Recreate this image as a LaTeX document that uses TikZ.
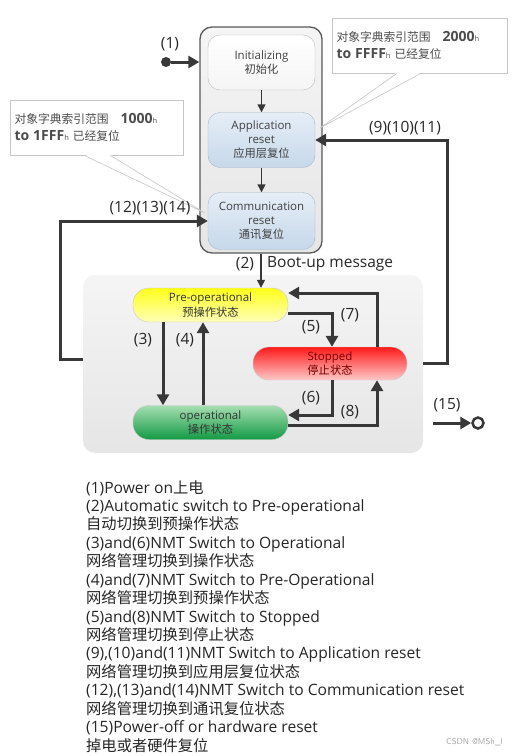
\documentclass[tikz,border=0pt]{standalone}
\usepackage{fontspec}
\setmainfont{Open Sans}
\newfontfamily\cjk{Noto Sans CJK SC}[Scale=0.98]
\usetikzlibrary{positioning,arrows.meta}
\newcommand\zh[1]{{\cjk #1}}
\newcommand\hh{{\fontsize{7.5}{8}\selectfont\mdseries h}}
\newcommand\lt[1]{{\fontsize{14}{16}\selectfont\bfseries #1}}
\definecolor{lnc}{HTML}{383838}
\definecolor{rsa}{HTML}{E6EEF7}
\definecolor{rsb}{HTML}{C6D8EA}
\definecolor{rsd}{HTML}{A4B6C8}
\definecolor{gra}{HTML}{A5DEB0}
\definecolor{grb}{HTML}{129A44}
\definecolor{yla}{HTML}{FFFF1A}
\definecolor{ylb}{HTML}{FFFFB8}
\definecolor{rda}{HTML}{FF1A1A}
\definecolor{rdb}{HTML}{FFC8C8}

\begin{document}
\begin{tikzpicture}[x=1pt,y=-1pt,
    blk/.style={
        rounded corners=12pt,
        top color=gray!8,
        bottom color=gray!20,
    },
    rs/.style={
        draw=rsd,
        align=center,
        text=black!75,
        font=\fontsize{11.5}{14}\selectfont,
        minimum width=107pt,
        minimum height=55pt,
        rounded corners=12pt,
        top color=rsa,
        bottom color=rsb,
    },
    os/.style={
        draw=gray!45,
        align=center,
        font=\fontsize{11.5}{14.5}\selectfont,
        minimum width=155pt,
        minimum height=34pt,
        rounded corners=16pt,
    },
    ln/.style={draw=lnc,line width=3pt,-{Triangle[length=11pt,width=12pt]}},
    tn/.style={draw=lnc,line width=1.5pt,-{Triangle[length=8pt,width=8pt]}},
    lb/.style={font=\fontsize{15.5}{17}\selectfont,text=black!85,inner sep=1pt},
    co/.style={draw=gray!45,fill=white,line width=.6pt,align=left,
        text=black!70,font=\fontsize{12}{17}\selectfont},
    lg/.style={anchor=base west,inner sep=0pt,font=\fontsize{15.6}{17}\selectfont,text=black!85},
]
    \useasboundingbox (0,0) rectangle (516,756);
    % ~~~ blocks ~~~~~~~~~~~~
    \node[blk,draw=gray!70!black,line width=1.3pt,minimum width=122pt,minimum height=226pt]
        (resetblk) at (261,140) {};
    \node[blk,minimum width=340pt,minimum height=178pt] (opblk) at (253,364) {};

    % ~~~ reset states ~~~~~~~~~~~~
    \node[rs,draw=gray!55,top color=white,bottom color=gray!8] (init) at (261.5,62.5)
        {Initializing\\\zh{初始化}};
    \node[rs] (appreset) at (261.5,140) {Application\\reset\\\zh{应用层复位}};
    \node[rs,minimum height=57pt] (commreset) at (261.5,221) {Communication\\reset\\\zh{通讯复位}};

    % ~~~ operating states ~~~~~~~~~~~~
    \node[os,top color=yla,bottom color=ylb,text=black!80] (preop) at (210.5,305)
        {Pre-operational\\\zh{预操作状态}};
    \node[os,top color=gra,bottom color=grb,text=black!80] (oper) at (210.5,422.5)
        {operational\\\zh{操作状态}};
    \node[os,minimum width=154pt,minimum height=33pt,top color=rda,bottom color=rdb,
        text=red!45!black] (stopped) at (330,363.5) {Stopped\\\zh{停止状态}};

    % ~~~ notes ~~~~~~~~~~~~
    \node[co,minimum width=173pt,minimum height=55pt,text width=164pt] (noteL) at (96.5,127.5)
        {\zh{对象字典索引范围}\hspace{1em}\lt{1000\hh}\\\lt{to 1FFF\hh} \zh{已经复位}};
    \coordinate (tipL) at (205,213);
    \fill[white] ([yshift=1pt]noteL.south -| 84,0) -- (tipL) -- ([yshift=1pt]noteL.south -| 110,0) -- cycle;
    \draw[gray!45,line width=.6pt] (noteL.south -| 84,0) -- (tipL) -- (noteL.south -| 110,0);

    \node[co,minimum width=175pt,minimum height=55pt,text width=166pt] (noteR) at (419.5,45.5)
        {\zh{对象字典索引范围}\hspace{1em}\lt{2000\hh}\\\lt{to FFFF\hh} \zh{已经复位}};
    \coordinate (tipR) at (320,128);
    \fill[white] ([yshift=1pt]noteR.south -| 397,0) -- (tipR) -- ([yshift=1pt]noteR.south -| 421,0) -- cycle;
    \draw[gray!45,line width=.6pt] (noteR.south -| 397,0) -- (tipR) -- (noteR.south -| 421,0);

    % ~~~ transitions ~~~~~~~~~~~~
    \node[circle,fill=lnc,inner sep=0pt,minimum size=10pt] (pwron) at (166,62) {};
    \draw[ln] (pwron) -- (pwron -| resetblk.west);
    \node[lb] at (170,44) {(1)};
    \draw[tn] (init) -- (appreset);
    \draw[tn] (appreset) -- (commreset);
    \draw[tn] (resetblk.south) -- (resetblk.south |- preop.north);
    \node[lb] at (245,264) {(2)};
    \node[lb,anchor=west] at (266,264) {Boot-up message};

    \draw[ln] ([xshift=-47.5pt]preop.south) -- ([xshift=-47.5pt]oper.north);
    \node[lb] at (143,340) {(3)};
    \draw[ln] ([xshift=-7.5pt]oper.north) -- ([xshift=-7.5pt]preop.south);
    \node[lb] at (185,340) {(4)};
    \draw[ln] ([yshift=-8pt]preop.east) -| ([xshift=2pt]stopped.north);
    \node[lb] at (311,327) {(5)};
    \draw[ln] ([xshift=47pt]stopped.north) |- ([yshift=12pt]preop.east);
    \node[lb] at (350,315) {(7)};
    \draw[ln] ([xshift=2pt]stopped.south) |- ([yshift=7.5pt]oper.east);
    \node[lb] at (311,398) {(6)};
    \draw[ln] ([yshift=-2.5pt]oper.east) -| ([xshift=47pt]stopped.south);
    \node[lb] at (350,412) {(8)};

    \draw[ln] (opblk.east |- stopped.east) -- ++(24,0) |- (appreset.east);
    \node[lb] at (405,128) {(9)(10)(11)};
    \draw[ln] ([yshift=5pt]opblk.west) -- ++(-22,0) |- (commreset.west);
    \node[lb] at (150,208) {(12)(13)(14)};

    \node[circle,draw=lnc,line width=2.5pt,inner sep=0pt,minimum size=11pt] (pwroff) at (478,423) {};
    \coordinate (offst) at (433,423);
    \draw[ln] (offst) -- (pwroff.west);
    \node[lb] at (447,405) {(15)};

    % ~~~ legend ~~~~~~~~~~~~
    \foreach \t [count=\i from 0] in {
        (1)Power on\zh{上电},
        (2)Automatic switch to Pre-operational,
        \zh{自动切换到预操作状态},
        (3)and(6)NMT Switch to Operational,
        \zh{网络管理切换到操作状态},
        (4)and(7)NMT Switch to Pre-Operational,
        \zh{网络管理切换到预操作状态},
        (5)and(8)NMT Switch to Stopped,
        \zh{网络管理切换到停止状态},
        {(9),(10)and(11)NMT Switch to Application reset},
        \zh{网络管理切换到应用层复位状态},
        {(12),(13)and(14)NMT Switch to Communication reset},
        \zh{网络管理切换到通讯复位状态},
        (15)Power-off or hardware reset,
        \zh{掉电或者硬件复位}}
        \node[lg] (leg\i) at (86,493+18.43*\i) {\t};
    \node[anchor=base east,inner sep=0pt,text=gray!70,font=\sffamily\fontsize{8.5}{9}\selectfont]
        (mark) at (503,744) {CSDN @MSh\_l};
\end{tikzpicture}
\end{document}
